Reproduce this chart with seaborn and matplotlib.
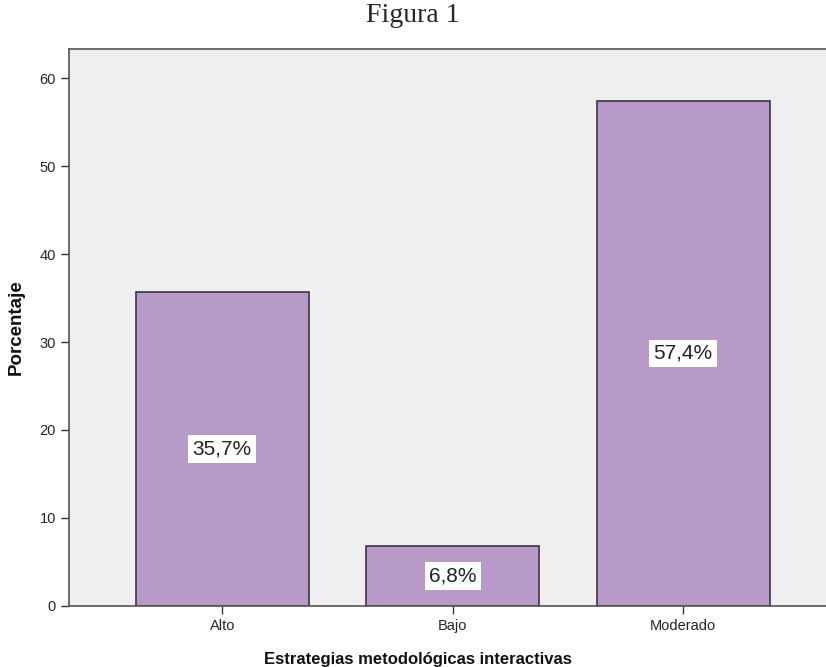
import matplotlib
matplotlib.use("Agg")
import matplotlib.pyplot as plt
import seaborn as sns

# Data
categorias = ["Alto", "Bajo", "Moderado"]
porcentajes = [35.7, 6.8, 57.4]
etiquetas = ["35,7%", "6,8%", "57,4%"]

sns.set_style("white")
plt.rcParams["font.family"] = ["Liberation Sans", "DejaVu Sans"]

fig = plt.figure(figsize=(8.26, 6.67), dpi=100)
ax = fig.add_axes([0.0835, 0.0915, 0.9165, 0.835])
ax.set_facecolor("#EFEFEF")

sns.barplot(x=categorias, y=porcentajes, color="#B79AC8", saturation=1,
            width=0.75, edgecolor="#3C3344", linewidth=1.2, ax=ax)

# value labels in white boxes at half the bar height
for i, (v, lab) in enumerate(zip(porcentajes, etiquetas)):
    ax.text(i, v / 2, lab, ha="center", va="center", fontsize=15, color="#222222",
            bbox=dict(facecolor="white", edgecolor="none", pad=3))

ax.set_xlim(-0.665, 2.62)
ax.set_ylim(0, 63.3)
ax.set_yticks([0, 10, 20, 30, 40, 50, 60])
ax.tick_params(axis="both", direction="out", length=6, width=1, color="#333333",
               labelsize=10.5, left=True, bottom=True)
for side in ["left", "bottom", "top"]:
    ax.spines[side].set_color("#555555")
    ax.spines[side].set_linewidth(1.2)
ax.spines["right"].set_visible(False)

ax.set_ylabel("Porcentaje", fontsize=13.5, fontweight="bold", color="#111111")
ax.yaxis.set_label_coords(-0.058, 0.5)
ax.set_xlabel("Estrategias metodológicas interactivas", fontsize=12, fontweight="bold",
              color="#111111")
ax.xaxis.set_label_coords(0.461, -0.083)

fig.text(0.5, 0.977, "Figura 1", ha="center", va="center", fontsize=20,
         family=["Liberation Serif", "DejaVu Serif"])

fig.savefig("out.png", dpi=100)
